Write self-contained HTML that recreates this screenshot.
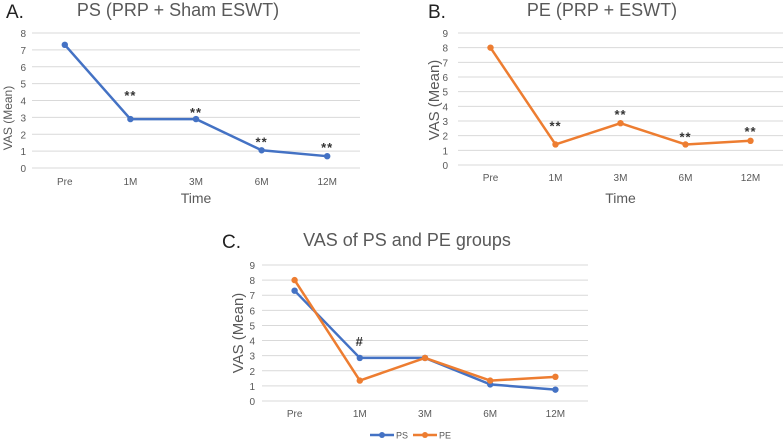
<!DOCTYPE html>
<html><head><meta charset="utf-8"><style>
html,body{margin:0;padding:0;background:#fff;width:784px;height:442px;overflow:hidden}
svg{display:block;font-family:"Liberation Sans",sans-serif}
</style></head><body>
<svg id="fig" width="784" height="442" viewBox="0 0 784 442" xmlns="http://www.w3.org/2000/svg"></svg>
<script>
const categories = ["Pre","1M","3M","6M","12M"];
const psValues = [7.3, 2.9, 2.9, 1.05, 0.7];
const peValues = [8, 1.4, 2.85, 1.4, 1.65];
const psValuesC = [7.3, 2.85, 2.85, 1.1, 0.75];
const peValuesC = [8, 1.35, 2.85, 1.35, 1.6];
const ticksA = [0,1,2,3,4,5,6,7,8];
const ticksB = [0,1,2,3,4,5,6,7,8,9];
const sigA = ["", "**", "**", "**", "**"];
const sigB = ["", "**", "**", "**", "**"];
const sigC = ["", "#", "", "", ""];

const NS = "http://www.w3.org/2000/svg";
const svg = document.getElementById("fig");
function mk(tag, attrs, parent, text){
  const e = document.createElementNS(NS, tag);
  for (const k in attrs) e.setAttribute(k, attrs[k]);
  if (text !== undefined) e.textContent = text;
  (parent || svg).appendChild(e);
  return e;
}
const BLUE = "#4472c4", ORANGE = "#ed7d31";

function chart(cfg){
  const g = mk("g", {});
  
  
  const ymax = cfg.ticks[cfg.ticks.length-1];
  const y = v => cfg.bottom - (v / ymax) * (cfg.bottom - cfg.top);
  const band = (cfg.right - cfg.left) / categories.length;
  const x = i => cfg.left + band * (i + 0.5);
  cfg.ticks.forEach(t => {
    const l = mk("line", {x1: cfg.left, x2: cfg.right, y1: y(t), y2: y(t), stroke: "#d9d9d9", "stroke-width": 1}, g);
    
    
    const tl = mk("text", {x: cfg.tickX, y: y(t) + 4, "font-size": 10, fill: "#595959", "text-anchor": "end"}, g, String(t));
    
    
  });
  categories.forEach((c, i) => {
    const xl = mk("text", {x: x(i), y: cfg.xLabelY, "font-size": 10, fill: "#595959", "text-anchor": "middle"}, g, c);
    
    
  });
  cfg.series.forEach(s => {
    const pts = s.values.map((v, i) => x(i) + "," + y(v)).join(" ");
    const pl = mk("polyline", {points: pts, fill: "none", stroke: s.color, "stroke-width": 2.5, "stroke-linejoin": "round"}, g);
    
    
    s.values.forEach((v, i) => {
      const c = mk("circle", {cx: x(i), cy: y(v), r: 3.2, fill: s.color}, g);
      
      
    });
  });
  if (cfg.sig) cfg.sig.forEach((t, i) => {
    if (!t) return;
    const v = cfg.sigBase[i];
    const st = mk("text", {x: x(i), y: y(v) - cfg.sigOff[i], "font-size": 13, "font-weight": "bold", fill: "#333", "text-anchor": "middle", "letter-spacing": 1}, g, t);
    
    
  });
  const tt = mk("text", {x: cfg.titleX, y: cfg.titleY, "font-size": 18, fill: "#595959", "text-anchor": "middle"}, g, cfg.title);
  
  
  const pn = mk("text", {x: cfg.panelX, y: cfg.titleY + 2, "font-size": 19, fill: "#222"}, g, cfg.panel);
  
  
  const yt = mk("text", {x: 0, y: 0, "font-size": cfg.yTitleSize, fill: "#595959", "text-anchor": "middle", transform: "translate(" + cfg.yTitleX + "," + cfg.yTitleY + ") rotate(-90)"}, g, "VAS (Mean)");
  
  
  if (cfg.xTitleY) {
    const xt = mk("text", {x: (cfg.left + cfg.right) / 2, y: cfg.xTitleY, "font-size": 14, fill: "#595959", "text-anchor": "middle"}, g, "Time");
    
    
  }
}

chart({name: "chart-a-ps", left: 32, right: 360, top: 33, bottom: 168, ticks: ticksA, tickX: 26, xLabelY: 185,
  series: [{name: "ps", values: psValues, color: BLUE}], sig: sigA, sigBase: psValues, sigOff: [0, 19, 2, 4, 4],
  title: "PS (PRP + Sham ESWT)", titleX: 178, titleY: 16, panel: "A.", panelX: 6,
  yTitleSize: 12, yTitleX: 12, yTitleY: 118, xTitleY: 203});

chart({name: "chart-b-pe", left: 458, right: 783, top: 33, bottom: 165, ticks: ticksB, tickX: 448, xLabelY: 181,
  series: [{name: "pe", values: peValues, color: ORANGE}], sig: sigB, sigBase: peValues, sigOff: [0, 14, 4, 3, 5],
  title: "PE (PRP + ESWT)", titleX: 602, titleY: 16, panel: "B.", panelX: 428,
  yTitleSize: 15, yTitleX: 439, yTitleY: 100, xTitleY: 203});

chart({name: "chart-c-both", left: 262, right: 588, top: 265, bottom: 401, ticks: ticksB, tickX: 255, xLabelY: 417,
  series: [{name: "ps", values: psValuesC, color: BLUE}, {name: "pe", values: peValuesC, color: ORANGE}],
  sig: sigC, sigBase: psValuesC, sigOff: [0, 12, 0, 0, 0],
  title: "VAS of PS and PE groups", titleX: 407, titleY: 246, panel: "C.", panelX: 222,
  yTitleSize: 15, yTitleX: 243, yTitleY: 333, xTitleY: 0});

const lg = mk("g", {});


[[370, BLUE, "PS"], [413, ORANGE, "PE"]].forEach(([lx, col, lab]) => {
  const e = mk("g", {}, lg);
  
  
  mk("line", {x1: lx, x2: lx + 24, y1: 435, y2: 435, stroke: col, "stroke-width": 2.5}, e);
  mk("circle", {cx: lx + 12, cy: 435, r: 3, fill: col}, e);
  mk("text", {x: lx + 26, y: 438.5, "font-size": 9, fill: "#595959"}, e, lab);
});
</script>
</body></html>
